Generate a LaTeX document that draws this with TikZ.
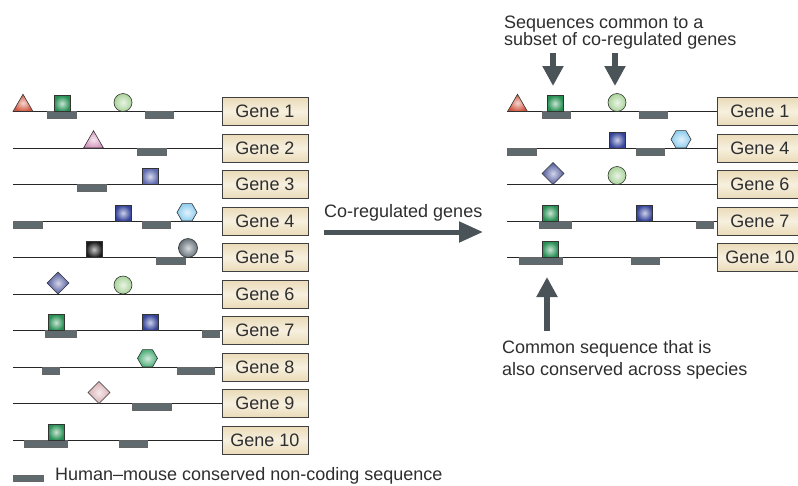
\documentclass[tikz,border=0pt]{standalone}
\usepackage{fontspec}
\setmainfont{Liberation Sans}
\usepackage{tikz}
\usetikzlibrary{arrows.meta}
\usetikzlibrary{shapes.geometric}
\usetikzlibrary{positioning}

\definecolor{consgray}{HTML}{5F6A6F}
\definecolor{arrowgray}{HTML}{4A5358}
\definecolor{boxtan}{HTML}{EADBB8}
\definecolor{boxlight}{HTML}{F7F0DF}
\definecolor{txtgray}{HTML}{2E2E2E}
\definecolor{redtri}{HTML}{D0563F}
\definecolor{pinktri}{HTML}{D497BE}
\definecolor{greensq}{HTML}{258F52}
\definecolor{lightgreen}{HTML}{A9D39A}
\definecolor{bluesq}{HTML}{33439A}
\definecolor{lightblue}{HTML}{8FCDEF}
\definecolor{blacksq}{HTML}{1A1A1A}
\definecolor{graycirc}{HTML}{66727A}
\definecolor{bluedia}{HTML}{4E579C}
\definecolor{pinkdia}{HTML}{D9AEB3}
\definecolor{greenhex}{HTML}{4DAE78}

\begin{document}
\begin{tikzpicture}[
    x=1pt, y=-1pt,
    font=\fontsize{18}{19}\selectfont,
    % Cajas con el nombre del gen
    genebox/.style={
        draw=black!75, line width=0.8pt,
        minimum width=86, minimum height=28, inner sep=0pt,
        top color=boxtan, bottom color=boxtan, middle color=boxlight,
        text=txtgray
    },
    % Linea del gen
    dnaline/.style={draw=black!85, line width=0.9pt},
    % Secuencia conservada humano-raton
    cons/.style={fill=consgray, draw=black!60, line width=0.4pt},
    % Motivos (formas sombreadas)
    glyph/.style={
        draw=black!80, line width=0.6pt, inner sep=0pt, outer sep=0pt,
        shading=radial, inner color=#1!25!white, outer color=#1,
        anchor=south
    },
    sq/.style={glyph=#1, rectangle, minimum size=16},
    circ/.style={glyph=#1, circle, minimum size=18},
    dia/.style={glyph=#1, diamond, minimum size=22},
    hex/.style={glyph=#1, regular polygon, regular polygon sides=6, minimum size=20},
    tri/.style={glyph=#1, regular polygon, regular polygon sides=3, minimum size=23},
    % Flechas grises gruesas
    bigarrow/.style={
        draw=arrowgray, line width=6pt,
        -{Triangle[width=20pt, length=20pt]}
    },
    label/.style={text=txtgray, inner sep=0pt, align=left}
]

    \useasboundingbox (0,0) rectangle (798,485);

    % --- 1. GENES (izquierda) ---
    \foreach \n/\y in {1/111.5, 2/148, 3/184.5, 4/221, 5/257.5,
                       6/294, 7/330.5, 8/367, 9/403.5, 10/440} {
        \node[genebox] (L\n) at (265,\y) {Gene \n};
        \coordinate (l\n) at (13,\y);
        \draw[dnaline] (l\n) -- (L\n);
    }

    % Secuencias conservadas
    \draw[cons] (47,111.5) rectangle ++(29,7);
    \draw[cons] (145,111.5) rectangle ++(28,7);
    \draw[cons] (137,148) rectangle ++(29,7);
    \draw[cons] (77,184.5) rectangle ++(29,7);
    \draw[cons] (13,221) rectangle ++(29,7);
    \draw[cons] (142,221) rectangle ++(28,7);
    \draw[cons] (156,257.5) rectangle ++(29,7);
    \draw[cons] (45,330.5) rectangle ++(31,7);
    \draw[cons] (202,330.5) rectangle ++(17,7);
    \draw[cons] (42,367) rectangle ++(17,7);
    \draw[cons] (177,367) rectangle ++(37,7);
    \draw[cons] (132,403.5) rectangle ++(39,7);
    \draw[cons] (24,440) rectangle ++(43,7);
    \draw[cons] (119,440) rectangle ++(28,7);

    % Motivos
    \node[tri=redtri] (l1a) at (23,111.5) {};
    \node[sq=greensq] (l1b) at (62,111.5) {};
    \node[circ=lightgreen] (l1c) at (123,111.5) {};
    \node[tri=pinktri] (l2a) at (93.5,148) {};
    \node[sq=bluesq!80!white] (l3a) at (150,184.5) {};
    \node[sq=bluesq] (l4a) at (123,221) {};
    \node[hex=lightblue] (l4b) at (187,221) {};
    \node[sq=blacksq] (l5a) at (94,257.5) {};
    \node[circ=graycirc, minimum size=19] (l5b) at (188,257.5) {};
    \node[dia=bluedia] (l6a) at (58,294) {};
    \node[circ=lightgreen] (l6b) at (123,294) {};
    \node[sq=greensq] (l7a) at (56,330.5) {};
    \node[sq=bluesq] (l7b) at (150,330.5) {};
    \node[hex=greenhex] (l8a) at (147.5,367) {};
    \node[dia=pinkdia] (l9a) at (99,403.5) {};
    \node[sq=greensq] (l10a) at (56,440) {};

    % Leyenda
    \draw[cons] (13,475) rectangle (43,481);
    \node[label, anchor=base west] (leg) at (55,480)
        {Human--mouse conserved non-coding sequence};

    % --- 2. FLECHA CENTRAL ---
    \node[label, anchor=base west] (colbl) at (324,217) {Co-regulated genes};
    \coordinate (co1) at (324,232);
    \coordinate (co2) at (483,232);
    \draw[bigarrow, line width=5pt, -{Triangle[width=20pt, length=24pt]}] (co1) -- (co2);

    % --- 3. GENES CO-REGULADOS (derecha) ---
    \foreach \n/\y in {1/111.5, 4/148, 6/184.5, 7/221, 10/257.5} {
        \node[genebox] (R\n) at (760,\y) {Gene \n};
        \coordinate (r\n) at (507,\y);
        \draw[dnaline] (r\n) -- (R\n);
    }

    \draw[cons] (542,111.5) rectangle ++(28,7);
    \draw[cons] (639,111.5) rectangle ++(28,7);
    \draw[cons] (507,148) rectangle ++(29,7);
    \draw[cons] (636,148) rectangle ++(28,7);
    \draw[cons] (539,221) rectangle ++(32,7);
    \draw[cons] (696,221) rectangle ++(17,7);
    \draw[cons] (519,257.5) rectangle ++(43,7);
    \draw[cons] (631,257.5) rectangle ++(28,7);

    \node[tri=redtri] (r1a) at (517.5,111.5) {};
    \node[sq=greensq] (r1b) at (555,111.5) {};
    \node[circ=lightgreen] (r1c) at (617,111.5) {};
    \node[sq=bluesq] (r4a) at (617,148) {};
    \node[hex=lightblue] (r4b) at (681,148) {};
    \node[dia=bluedia] (r6a) at (553,184.5) {};
    \node[circ=lightgreen] (r6b) at (617,184.5) {};
    \node[sq=greensq] (r7a) at (550,221) {};
    \node[sq=bluesq] (r7b) at (644.5,221) {};
    \node[sq=greensq] (r10a) at (550,257.5) {};

    % --- 4. ETIQUETAS ---
    \node[label, anchor=base west] (toplbl) at (504,45)
        {Sequences common to a\\[-2pt]subset of co-regulated genes};
    \coordinate (d1a) at (553,53);
    \coordinate (d1b) at (553,86);
    \coordinate (d2a) at (615,53);
    \coordinate (d2b) at (615,86);
    \draw[bigarrow] (d1a) -- (d1b);
    \draw[bigarrow] (d2a) -- (d2b);

    \coordinate (u1a) at (547,331);
    \coordinate (u1b) at (547,277);
    \draw[bigarrow] (u1a) -- (u1b);
    \node[label, anchor=base west] (botlbl) at (502,375)
        {Common sequence that is\\[3pt]also conserved across species};

\end{tikzpicture}
\end{document}
